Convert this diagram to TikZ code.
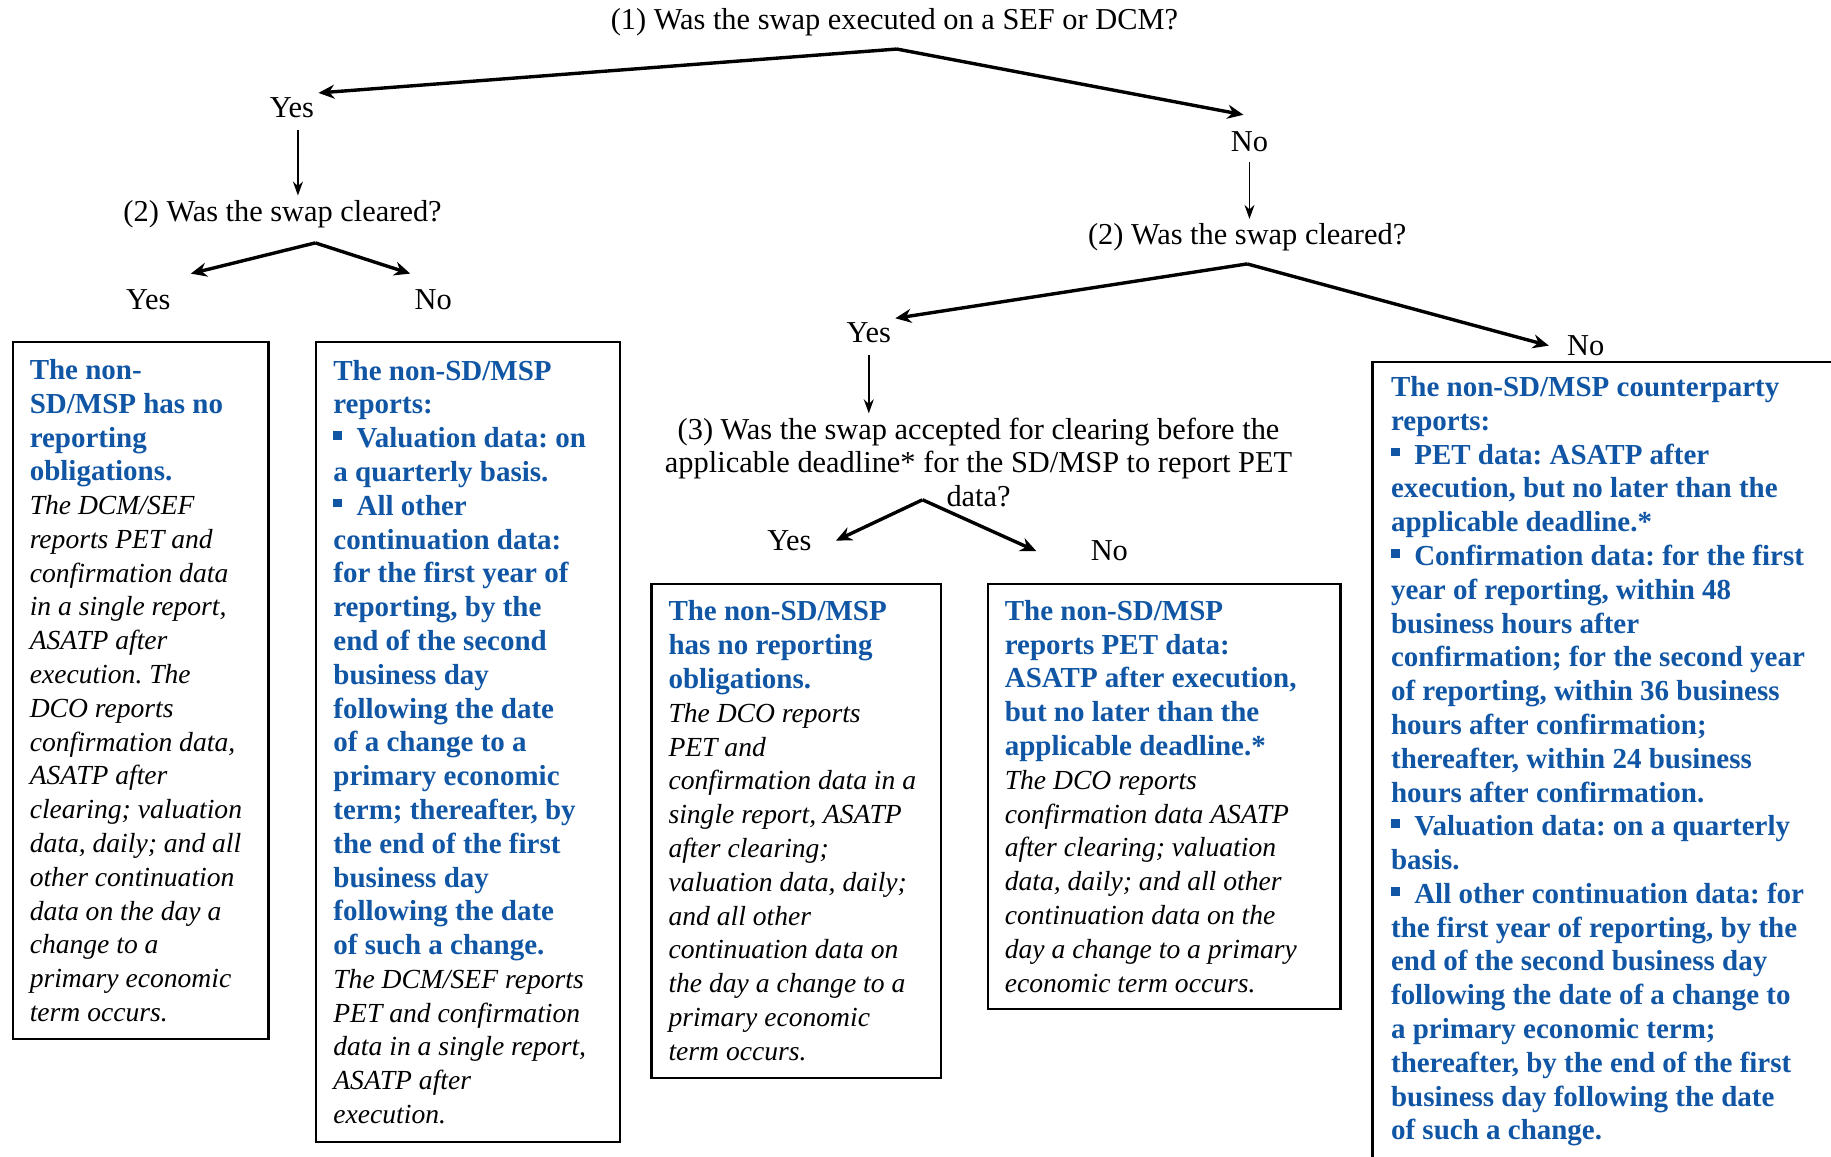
\documentclass[tikz,border=0pt]{standalone}
\usepackage{fontspec}
\setmainfont{Liberation Serif}
\usetikzlibrary{arrows.meta,positioning}

\definecolor{repblue}{RGB}{16,86,164}
\newcommand{\sqbul}{\raisebox{0.27em}{\rule{0.3em}{0.3em}}\hspace{0.5em}}
\newcommand{\boldpart}{\color{repblue}\fontsize{14.5}{16.9}\selectfont\bfseries}
\newcommand{\itpart}{\fontsize{13.8}{16.9}\selectfont\itshape}

\begin{document}
\begin{tikzpicture}[x=0.584pt,y=-0.584pt,
        font=\fontsize{15.2}{16.9}\selectfont\frenchspacing,
        every node/.style={inner sep=2pt}]
    \useasboundingbox (0,0) rectangle (1568,990);
    \clip (0,0) rectangle (1568,990);

    % questions and answers
    \node (q1) at (766,19) {(1) Was the swap executed on a SEF or DCM?};
    \node (yes1) at (250,92) {Yes};
    \node (no1) at (1070,121) {No};
    \node (q2l) at (242,183) {(2) Was the swap cleared?};
    \node (q2r) at (1068,203) {(2) Was the swap cleared?};
    \node (yes2l) at (127,257) {Yes};
    \node (no2l) at (371,257) {No};
    \node (yes2r) at (744,285) {Yes};
    \node (no2r) at (1358,296) {No};
    \node[align=center] (q3) at (838,396) {(3) Was the swap accepted for clearing before the\\
        applicable deadline* for the SD/MSP to report PET\\data?};
    \node (yes3) at (676,463) {Yes};
    \node (no3) at (950,472) {No};

    \coordinate (a1) at (768,42);
    \coordinate (a2l) at (270,208);
    \coordinate (a2r) at (1068,226);
    \coordinate (a3) at (790,428);

    % outcome boxes
    \begin{scope}[every node/.style={draw=black,line width=1.1pt,anchor=north west,
                    align=flush left,inner xsep=8.5pt,inner ysep=0pt}]
        \node[text width=110.9pt,minimum height=348.6pt] (boxA) at (10,292) {%
            {\boldpart The non-\\SD/MSP has no\\reporting\\obligations.}\\
            {\itpart The DCM/SEF\\reports PET and\\confirmation data\\in a single report,\\
            ASATP after\\execution. The\\DCO reports\\confirmation data,\\ASATP after\\
            clearing; valuation\\data, daily; and all\\other continuation\\data on the day a\\
            change to a\\primary economic\\term occurs.}};
        \node[text width=134.8pt,minimum height=400pt] (boxB) at (270,292) {%
            {\boldpart The non-SD/MSP\\reports:\\\sqbul Valuation data: on\\
            a quarterly basis.\\\sqbul All other\\continuation data:\\for the first year of\\
            reporting, by the\\end of the second\\business day\\following the date\\
            of a change to a\\primary economic\\term; thereafter, by\\the end of the first\\
            business day\\following the date\\of such a change.}\\
            {\itpart The DCM/SEF reports\\PET and confirmation\\data in a single report,\\
            ASATP after\\execution.}};
        \node[text width=127.8pt,minimum height=247pt] (boxC) at (557,499) {%
            {\boldpart The non-SD/MSP\\has no reporting\\obligations.}\\
            {\itpart The DCO reports\\PET and\\confirmation data in a\\single report, ASATP\\
            after clearing;\\valuation data, daily;\\and all other\\continuation data on\\
            the day a change to a\\primary economic\\term occurs.}};
        \node[text width=159.4pt,minimum height=212.6pt] (boxD) at (845,499) {%
            {\boldpart The non-SD/MSP\\reports PET data:\\ASATP after execution,\\
            but no later than the\\applicable deadline.*}\\
            {\itpart The DCO reports\\confirmation data ASATP\\after clearing; valuation\\
            data, daily; and all other\\continuation data on the\\day a change to a primary\\
            economic term occurs.}};
    \end{scope}
    \node[anchor=north west,align=flush left,text width=229pt,inner xsep=9.3pt,inner ysep=7pt]
        (boxE) at (1175,310) {%
        {\boldpart The non-SD/MSP counterparty\\reports:\\
        \sqbul PET data: ASATP after\\execution, but no later than the\\applicable deadline.*\\
        \sqbul Confirmation data: for the first\\year of reporting, within 48\\
        business hours after\\confirmation; for the second year\\of reporting, within 36 business\\
        hours after confirmation;\\thereafter, within 24 business\\hours after confirmation.\\
        \sqbul Valuation data: on a quarterly\\basis.\\
        \sqbul All other continuation data: for\\the first year of reporting, by the\\
        end of the second business day\\following the date of a change to\\
        a primary economic term;\\thereafter, by the end of the first\\
        business day following the date\\of such a change.}};
    \draw[line width=1.4pt] (boxE.north west) rectangle ([yshift=-30pt]boxE.south east);

    % arrows
    \begin{scope}[>={Stealth[length=8pt,width=7pt]},
                every edge/.style={draw=black,line width=1.7pt}]
        \path [->] (a1) edge (yes1.north east);
        \path [->] (a1) edge ([xshift=-3pt,yshift=6pt]no1.north);
        \path [->] (a2l) edge ([shift={(8pt,6pt)}]yes2l.north east);
        \path [->] (a2l) edge ([yshift=6pt]no2l.north west);
        \path [->] (a2r) edge (yes2r.north east);
        \path [->] (a2r) edge ([xshift=-7pt]no2r.west);
        \path [->] (a3) edge ([xshift=10pt]yes3.east);
        \path [->] (a3) edge ([xshift=-25pt]no3.west);
    \end{scope}
    \begin{scope}[>={Stealth[length=7pt,width=5pt]},
                every edge/.style={draw=black,line width=0.7pt}]
        \path [->] ([xshift=3pt]yes1.south) edge[shorten <=4pt] ([xshift=3pt]yes1.south |- q2l.north);
        \path [->] (no1.south) edge[shorten <=3pt] (no1.south |- q2r.north);
        \path [->] (yes2r.south) edge[shorten <=4pt] (yes2r.south |- q3.north);
    \end{scope}
\end{tikzpicture}
\end{document}
